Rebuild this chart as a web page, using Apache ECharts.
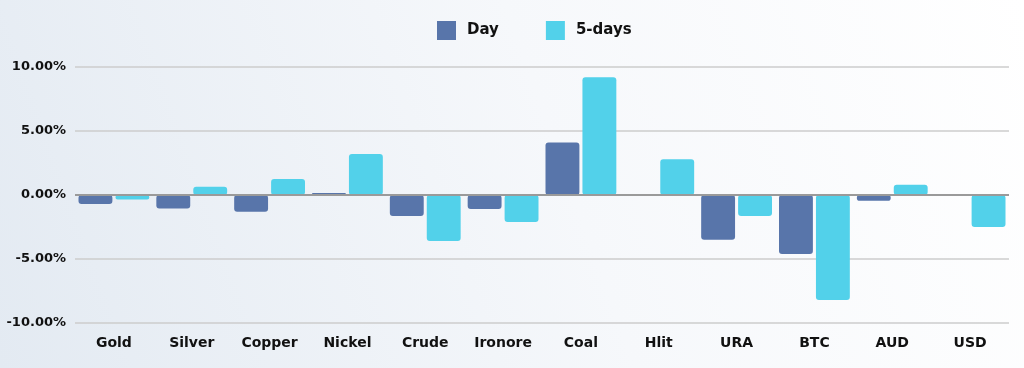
<!DOCTYPE html>
<html><head><meta charset="utf-8">
<script src="https://cdn.jsdelivr.net/npm/echarts@6/dist/echarts.min.js"></script>
<style>html,body{margin:0;padding:0;}#c{width:1024px;height:368px;}</style>
</head><body><div id="c"></div>
<script>
const categories = ['Gold','Silver','Copper','Nickel','Crude','Ironore','Coal','Hlit','URA','BTC','AUD','USD'];
const dayValues = [-0.7,-1.05,-1.3,0.15,-1.65,-1.1,4.1,0,-3.5,-4.6,-0.45,0.05];
const fiveDayValues = [-0.35,0.65,1.25,3.2,-3.6,-2.1,9.2,2.8,-1.65,-8.2,0.8,-2.5];
const yTicks = {min:-10,max:10,interval:5};

const chart = echarts.init(document.getElementById('c'));
const font = 'DejaVu Sans';
chart.setOption({
  backgroundColor: {type:'linear',x:0,y:1,x2:1,y2:0,colorStops:[{offset:0,color:'#e3eaf2'},{offset:0.55,color:'#f6f8fb'},{offset:1,color:'#ffffff'}]},
  animation:false,
  legend:{top:16,left:432,itemWidth:19,itemHeight:19,itemGap:47,icon:'rect',
    textStyle:{fontFamily:font,fontWeight:'bold',fontSize:15,color:'#111',padding:[0,0,0,6]},
    data:['Day','5-days']},
  grid:{left:75,right:15,top:67,bottom:45},
  xAxis:{type:'category',data:categories,
    axisLine:{show:false,onZero:false},
    axisTick:{show:false},
    axisLabel:{fontFamily:font,fontWeight:'bold',fontSize:14,color:'#111',margin:13}
  },
  yAxis:{type:'value',min:yTicks.min,max:yTicks.max,interval:yTicks.interval,
    axisLabel:{fontFamily:font,fontWeight:'bold',fontSize:13,color:'#111',margin:9,
      formatter:v=>v.toFixed(2)+'%'},
    splitLine:{lineStyle:{color:'#cccccc',width:1.5}},
    axisLine:{show:false},axisTick:{show:false}},
  series:[
    {name:'Day',type:'bar',data:dayValues,barGap:'9%',barCategoryGap:'9%',
     itemStyle:{color:'#5875aa',borderRadius:3},
     markLine:{silent:true,symbol:'none',label:{show:false},
       lineStyle:{color:'#9a9a9a',width:2,type:'solid'},data:[{yAxis:0}]}},
    {name:'5-days',type:'bar',data:fiveDayValues,
     itemStyle:{color:'#52d1ea',borderRadius:3}}
  ]
});
</script></body></html>
